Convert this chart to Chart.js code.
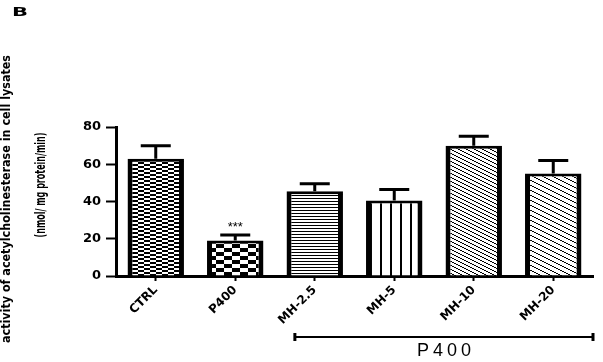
<!DOCTYPE html>
<html>
<head>
<meta charset="utf-8">
<script src="https://cdn.jsdelivr.net/npm/chart.js@4"></script>
<style>
html,body{margin:0;padding:0;background:#fff;}
#wrap{width:603px;height:362px;position:relative;}
</style>
</head>
<body>
<div id="wrap"><canvas id="c" width="603" height="362"></canvas></div>
<script>
// ---- data ----
const categories = ['CTRL', 'P400', 'MH-2.5', 'MH-5', 'MH-10', 'MH-20'];
const means = [63, 19, 45.5, 40.5, 70, 55];
const sem = [7, 3, 4, 6, 5, 7];
const yTickValues = [0, 20, 40, 60, 80];
const significance = ['', '***', '', '', '', ''];
const panelLabel = 'B';
const yTitle1 = 'activity of acetylcholinesterase in cell lysates';
const yTitle2 = '(nmol/ mg protein/min)';
const groupLabel = 'P400';

// ---- patterns ----
function makePattern(w, h, draw) {
  const t = document.createElement('canvas');
  t.width = w; t.height = h;
  const g = t.getContext('2d');
  g.fillStyle = '#fff'; g.fillRect(0, 0, w, h);
  g.fillStyle = '#000'; g.strokeStyle = '#000';
  draw(g, w, h);
  return document.createElement('canvas').getContext('2d').createPattern(t, 'repeat');
}
const patterns = [
  makePattern(12, 4, g => { g.fillRect(0, 0, 6, 2); g.fillRect(6, 2, 6, 2); }),
  makePattern(16, 8, g => { g.fillRect(0, 0, 8, 4); g.fillRect(8, 4, 8, 4); }),
  makePattern(4, 3, g => { g.fillRect(0, 0, 4, 1); }),
  makePattern(10, 4, g => { g.fillRect(0, 0, 2, 4); }),
  makePattern(8, 4, g => { for (let x = 0; x < 8; x++) { const y = Math.floor(x / 2); g.fillRect(x, y, 1, 1); } }),
  makePattern(10, 5, g => { for (let x = 0; x < 10; x++) { const y = Math.floor(x / 2); g.fillRect(x, y, 1, 1); } })
];

// ---- plugins ----
const errorBarPlugin = {
  id: 'errorBars',
  afterDatasetsDraw(chart) {
    const ctx = chart.ctx;
    const y = chart.scales.y;
    const meta = chart.getDatasetMeta(0);
    ctx.save();
    ctx.strokeStyle = '#000';
    ctx.lineWidth = 3;
    meta.data.forEach((bar, i) => {
      const top = y.getPixelForValue(means[i]);
      const cap = y.getPixelForValue(means[i] + sem[i]);
      ctx.beginPath();
      ctx.moveTo(bar.x, top);
      ctx.lineTo(bar.x, cap);
      ctx.moveTo(bar.x - 15, cap);
      ctx.lineTo(bar.x + 15, cap);
      ctx.stroke();
      if (significance[i]) {
        ctx.fillStyle = '#000';
        ctx.font = '13px "Liberation Sans", Arial, sans-serif';
        ctx.textAlign = 'center';
        ctx.textBaseline = 'bottom';
        ctx.fillText(significance[i], bar.x, cap - 1);
      }
    });
    ctx.restore();
  }
};

function fittedText(ctx, text, cx, cy, length, rotate) {
  ctx.save();
  ctx.translate(cx, cy);
  if (rotate) ctx.rotate(-Math.PI / 2);
  const w = ctx.measureText(text).width;
  ctx.scale(length / w, 1);
  ctx.textAlign = 'center';
  ctx.textBaseline = 'middle';
  ctx.fillText(text, 0, 0);
  ctx.restore();
}

const annotationPlugin = {
  id: 'annotations',
  afterDraw(chart) {
    const ctx = chart.ctx;
    const x = chart.scales.x;
    const area = chart.chartArea;
    ctx.save();
    ctx.fillStyle = '#000';
    ctx.font = 'bold 12px "DejaVu Sans", sans-serif';
    fittedText(ctx, panelLabel, 20, 13, 16, false);
    ctx.font = 'bold 13px "DejaVu Sans", sans-serif';
    fittedText(ctx, yTitle1, 7, 199, 288, true);
    ctx.font = 'bold 14px "DejaVu Sans", sans-serif';
    fittedText(ctx, yTitle2, 41, 185, 105, true);
    const step = x.getPixelForValue(1) - x.getPixelForValue(0);
    const x0 = x.getPixelForValue(2) - step * 0.25;
    const x1 = area.right;
    const by = 337;
    ctx.strokeStyle = '#000';
    ctx.lineWidth = 2;
    ctx.beginPath(); ctx.moveTo(x0, by); ctx.lineTo(x1, by); ctx.stroke();
    ctx.lineWidth = 3;
    ctx.beginPath();
    ctx.moveTo(x0, by - 4); ctx.lineTo(x0, by + 4);
    ctx.moveTo(x1, by - 4); ctx.lineTo(x1, by + 4);
    ctx.stroke();
    ctx.font = '18px "Liberation Sans", Arial, sans-serif';
    ctx.textAlign = 'center';
    ctx.textBaseline = 'middle';
    if (ctx.letterSpacing !== undefined) ctx.letterSpacing = '4px';
    ctx.fillText(groupLabel, (x0 + x1) / 2 + 2, 351);
    ctx.restore();
  }
};

new Chart(document.getElementById('c'), {
  type: 'bar',
  data: {
    labels: categories,
    datasets: [{
      data: means,
      backgroundColor: patterns,
      borderColor: '#000',
      borderWidth: { left: 5, right: 5, top: 3, bottom: 0 },
      borderSkipped: 'start',
      barPercentage: 0.71,
      categoryPercentage: 1.0
    }]
  },
  options: {
    responsive: false,
    animation: false,
    devicePixelRatio: 1,
    layout: { padding: { top: 127, right: 10, left: 0, bottom: 0 } },
    plugins: { legend: { display: false }, tooltip: { enabled: false }, title: { display: false } },
    scales: {
      y: {
        min: 0, max: 80,
        afterBuildTicks(scale) { scale.ticks = yTickValues.map(v => ({ value: v })); },
        afterFit(scale) { scale.width = 116; },
        border: { display: true, color: '#000', width: 3 },
        grid: { drawOnChartArea: false, drawTicks: true, tickLength: 10, tickWidth: 2, tickColor: '#000' },
        ticks: { color: '#000', padding: 5, font: { family: '"DejaVu Sans", sans-serif', weight: 'bold', size: 13 } }
      },
      x: {
        afterFit(scale) { scale.height = 86; },
        border: { display: true, color: '#000', width: 3 },
        grid: { offset: false, drawOnChartArea: false, drawTicks: true, tickLength: 5, tickWidth: 2, tickColor: '#000' },
        ticks: { color: '#000', minRotation: 45, maxRotation: 45, padding: 2, autoSkip: false,
                 font: { family: '"DejaVu Sans", sans-serif', weight: 'bold', size: 12 } }
      }
    }
  },
  plugins: [errorBarPlugin, annotationPlugin]
});
</script>
</body>
</html>
